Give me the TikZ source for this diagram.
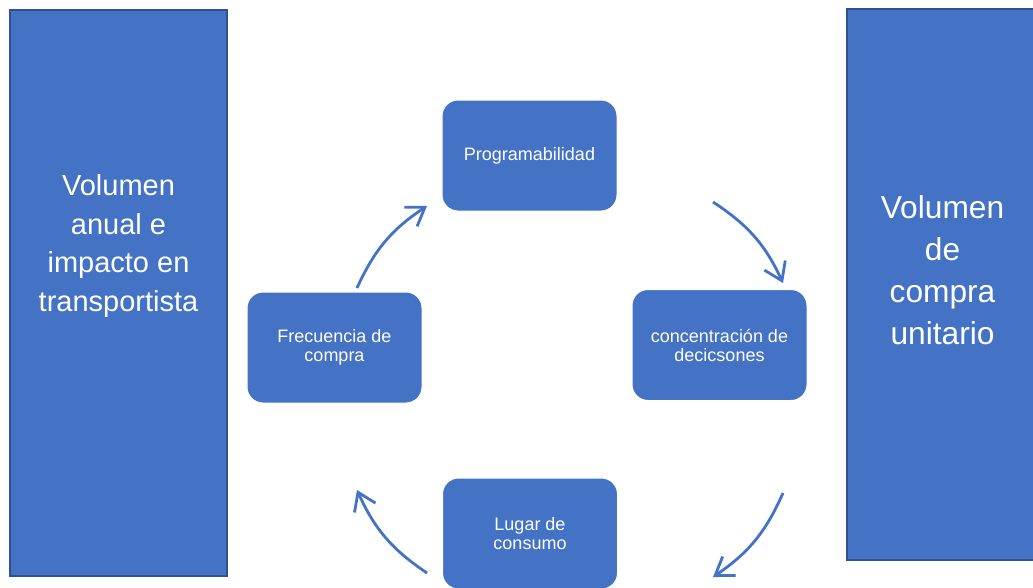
\documentclass[tikz,border=0pt]{standalone}
\usepackage{fontspec}
\setmainfont{Liberation Sans}
\usetikzlibrary{arrows.meta}
\definecolor{acc}{HTML}{4472C4}
\definecolor{accdark}{HTML}{2F528F}
\begin{document}
\begin{tikzpicture}[x=1pt,y=-1pt,
  bigbox/.style={draw=accdark,line width=1.5pt,fill=acc,inner sep=0pt},
  bigtext/.style={text=white,align=center,inner sep=0pt},
  smallbox/.style={draw=white,line width=1pt,fill=acc,text=white,align=center,
    rounded corners=16pt,minimum width=175pt,minimum height=111pt,inner sep=0pt,
    font=\fontsize{18}{19}\selectfont},
  conn/.style={draw=acc,line width=2.8pt,-{Straight Barb[length=17pt,width=23pt]},bend left=16}]
\useasboundingbox (0,0) rectangle (1033,587);
\fill[white] (0,0) rectangle (1033,587);
% big side rectangles
\node[bigbox,minimum width=217pt,minimum height=566pt] (lrect) at (118.5,293) {};
\node[bigtext,font=\fontsize{29}{38.5}\selectfont] (ltext) at (118.5,246) {Volumen\\anual e\\impacto en\\transportista};
\node[bigbox,minimum width=192pt,minimum height=551pt] (rrect) at (943,284.5) {};
\node[bigtext,font=\fontsize{31.7}{42}\selectfont] (rtext) at (942.5,270) {Volumen\\de\\compra\\unitario};
% cycle boxes
\node[smallbox] (top) at (529.5,155.5) {Programabilidad};
\node[smallbox] (right) at (719.5,345) {concentraci\'on de\\decicsones};
\node[smallbox] (bottom) at (530,533.5) {Lugar de\\consumo};
\node[smallbox] (left) at (334.5,347.5) {Frecuencia de\\compra};
% arrow end points
\coordinate (a1s) at (357,288);
\coordinate (a1e) at (427,206);
\coordinate (a2s) at (713,202);
\coordinate (a2e) at (783,283);
\coordinate (a3s) at (783,493);
\coordinate (a3e) at (713,577);
\coordinate (a4s) at (427,573);
\coordinate (a4e) at (357,490);
\draw[conn] (a1s) to (a1e);
\draw[conn] (a2s) to (a2e);
\draw[conn] (a3s) to (a3e);
\draw[conn] (a4s) to (a4e);
\end{tikzpicture}
\end{document}
